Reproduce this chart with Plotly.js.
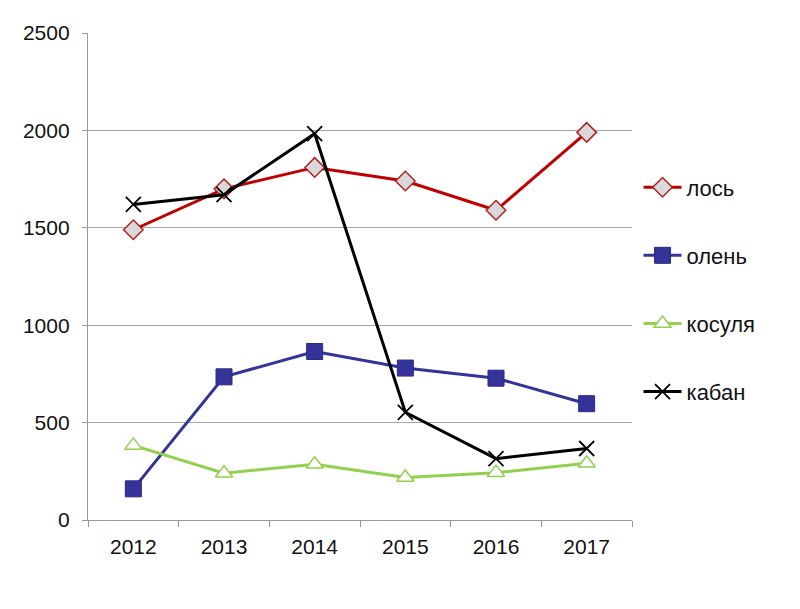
<!DOCTYPE html>
<html>
<head>
<meta charset="utf-8">
<script src="https://cdn.plot.ly/plotly-3.0.1.min.js"></script>
<style>html,body{margin:0;padding:0;background:#fff}#chart{width:800px;height:609px}</style>
</head>
<body>
<div id="chart"></div>
<script>
const years = ['2012', '2013', '2014', '2015', '2016', '2017'];
const los = [1490, 1700, 1810, 1740, 1590, 1990];
const olen = [160, 735, 865, 780, 728, 597];
const kosulya = [383, 240, 286, 218, 243, 291];
const kaban = [1620, 1670, 1983, 553, 315, 367];
const yTicks = [0, 500, 1000, 1500, 2000, 2500];

const font = {family: '"Liberation Sans", Arial, sans-serif', size: 21, color: '#111'};
const legendFont = {family: '"Liberation Sans", Arial, sans-serif', size: 22, color: '#111'};

const traces = [
  {name: 'лось', y: los, legendgroup: 'a',
   line: {color: '#c00000', width: 3},
   marker: {symbol: 'diamond', size: 15, color: '#d9d9d9', line: {color: '#b22222', width: 1.5}}},
  {name: 'олень', y: olen, legendgroup: 'b',
   line: {color: '#333399', width: 3},
   marker: {symbol: 'square', size: 16, color: '#333399', line: {color: '#2a2a88', width: 1}}},
  {name: 'косуля', y: kosulya, legendgroup: 'c',
   line: {color: '#92d050', width: 3},
   marker: {symbol: 'triangle-up', size: 15, color: '#ffffff', line: {color: '#92d050', width: 1.5}}},
  {name: 'кабан', y: kaban, legendgroup: 'd',
   line: {color: '#000000', width: 3},
   marker: {symbol: 'x-thin', size: 15, color: '#000', line: {color: '#000000', width: 1.8}}}
].map(t => Object.assign({type: 'scatter', mode: 'lines+markers', x: years, cliponaxis: false}, t));

const layout = {
  width: 800, height: 609,
  margin: {l: 88, r: 168, t: 33, b: 89},
  paper_bgcolor: '#fff', plot_bgcolor: '#fff',
  font: font,
  showlegend: true,
  legend: {x: 1.012, xanchor: 'left', y: 0.726, yanchor: 'top', tracegroupgap: 36.5,
           font: legendFont, bgcolor: 'rgba(0,0,0,0)', itemwidth: 38},
  xaxis: {type: 'category', range: [-0.5, 5.5], autorange: false, tickson: 'boundaries', ticks: 'outside', ticklen: 6, tickcolor: '#999',
          showline: true, linecolor: '#999', linewidth: 1.2, showgrid: false, zeroline: false,
          tickfont: font, ticklabelstandoff: 8},
  yaxis: {range: [0, 2500], tickvals: yTicks, ticks: 'outside', ticklen: 5, tickcolor: '#999',
          showline: true, linecolor: '#999', linewidth: 1.2, showgrid: true, gridcolor: '#a6a6a6', gridwidth: 1.2,
          zeroline: false, tickfont: font, ticklabelstandoff: 8}
};

Plotly.newPlot('chart', traces, layout, {displayModeBar: false, staticPlot: true});
</script>
</body>
</html>
